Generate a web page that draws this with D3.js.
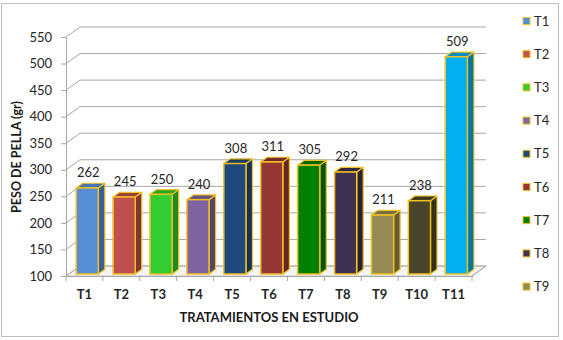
<!DOCTYPE html>
<html>
<head>
<meta charset="utf-8">
<script src="https://cdn.jsdelivr.net/npm/d3@7"></script>
<style>
  body { margin: 0; background: #ffffff; }
  text { font-family: Lato, "Open Sans", sans-serif; }
</style>
</head>
<body>
<div id="chart"></div>
<script>
// data
const categories = ["T1", "T2", "T3", "T4", "T5", "T6", "T7", "T8", "T9", "T10", "T11"];
const values = [262, 245, 250, 240, 308, 311, 305, 292, 211, 238, 509];
const barColors = ["#558ed5", "#c0504d", "#33cc33", "#8064a2", "#1f497d", "#953735",
                   "#008000", "#403151", "#948a54", "#4a452a", "#00b0f0"];
const yTicks = [100, 150, 200, 250, 300, 350, 400, 450, 500, 550];
const legendItems = ["T1", "T2", "T3", "T4", "T5", "T6", "T7", "T8", "T9"];

// layout
const width = 563, height = 340;
const plot = { left: 66, right: 472, top: 37, bottom: 276 };
const depth = { dx: 14, dy: 10 };        // full floor depth
const barDepth = { dx: 6.5, dy: 4.7 };   // box depth of a column
const barShift = { dx: 2.8, dy: 2 };     // columns stand a bit behind the front edge
const outline = "#f0c020";
const gridColor = "#a6a6a6";

const svg = d3.select("#chart")
  .append("svg")
  .attr("width", width)
  .attr("height", height);

// outer frame
svg.append("rect")
  .attr("x", 1.5).attr("y", 3.5)
  .attr("width", 557).attr("height", 333)
  .attr("fill", "#ffffff")
  .attr("stroke", "#bdbdbd");

const x = d3.scaleBand()
  .domain(categories)
  .range([plot.left, plot.right])
  .padding(0);

const y = d3.scaleLinear()
  .domain([100, 550])
  .range([plot.bottom, plot.top]);

// floor
svg.append("path")
  .attr("d", `M${plot.left},${plot.bottom} L${plot.right},${plot.bottom} L${plot.right + depth.dx},${plot.bottom - depth.dy} L${plot.left + depth.dx},${plot.bottom - depth.dy} Z`)
  .attr("fill", "#f4f4f4")
  .attr("stroke", "#c8c8c8");

// left wall diagonals + back wall gridlines
const grid = svg.append("g").attr("class", "grid");
grid.selectAll("path")
  .data(yTicks)
  .enter()
  .append("path")
  .attr("d", d => `M${plot.left},${y(d)} L${plot.left + depth.dx},${y(d) - depth.dy} L${plot.right + depth.dx},${y(d) - depth.dy}`)
  .attr("fill", "none")
  .attr("stroke", gridColor)
  .attr("stroke-width", 1);

// floor right diagonal
svg.append("line")
  .attr("x1", plot.right).attr("y1", plot.bottom)
  .attr("x2", plot.right + depth.dx).attr("y2", plot.bottom - depth.dy)
  .attr("stroke", gridColor);

// y axis
const yAxis = svg.append("g")
  .attr("transform", `translate(${plot.left},0)`)
  .call(d3.axisLeft(y).tickValues(yTicks).tickSize(5).tickSizeOuter(0).tickPadding(9));
yAxis.select(".domain").attr("stroke", gridColor);
yAxis.selectAll(".tick line").attr("stroke", gridColor);
yAxis.selectAll("text")
  .attr("font-size", 13)
  .attr("fill", "#262626")
  .style("font-family", "Lato, sans-serif");

// x axis (labels at band centres, ticks at band edges)
const xAxis = svg.append("g")
  .attr("transform", `translate(0,${plot.bottom})`)
  .call(d3.axisBottom(x).tickSize(0).tickPadding(14));
xAxis.select(".domain").attr("stroke", gridColor);
xAxis.selectAll("text")
  .attr("font-size", 13)
  .attr("font-weight", "bold")
  .attr("fill", "#262626")
  .style("font-family", "Lato, sans-serif");

const edges = categories.map(c => x(c)).concat([plot.right]);
svg.append("g").selectAll("line")
  .data(edges)
  .enter()
  .append("line")
  .attr("x1", d => d).attr("x2", d => d)
  .attr("y1", plot.bottom).attr("y2", plot.bottom + 5)
  .attr("stroke", gridColor);

// columns
const barW = x.bandwidth() * 0.6;
const bars = svg.append("g").attr("class", "bars")
  .selectAll("g")
  .data(categories.map((c, i) => ({ cat: c, value: values[i], color: barColors[i] })))
  .enter()
  .append("g");

const bx = d => x(d.cat) + (x.bandwidth() - barW) / 2 + barShift.dx;
const by = d => y(d.value) - barShift.dy;
const bBottom = plot.bottom - barShift.dy;

bars.append("path") // side
  .attr("d", d => {
    const x0 = bx(d) + barW, t = by(d);
    return `M${x0},${t} L${x0 + barDepth.dx},${t - barDepth.dy} L${x0 + barDepth.dx},${bBottom - barDepth.dy} L${x0},${bBottom} Z`;
  })
  .attr("fill", d => d3.color(d.color).darker(1.1))
  .attr("stroke", outline)
  .attr("stroke-width", 1.2)
  .attr("stroke-linejoin", "round");

bars.append("path") // top
  .attr("d", d => {
    const x0 = bx(d), t = by(d);
    return `M${x0},${t} L${x0 + barDepth.dx},${t - barDepth.dy} L${x0 + barW + barDepth.dx},${t - barDepth.dy} L${x0 + barW},${t} Z`;
  })
  .attr("fill", d => d3.color(d.color).darker(0.6))
  .attr("stroke", outline)
  .attr("stroke-width", 1.2)
  .attr("stroke-linejoin", "round");

bars.append("rect") // front
  .attr("x", bx)
  .attr("y", by)
  .attr("width", barW)
  .attr("height", d => bBottom - by(d))
  .attr("fill", d => d.color)
  .attr("stroke", outline)
  .attr("stroke-width", 1.5);

bars.append("text") // value labels
  .attr("x", d => bx(d) + barW / 2 + 1)
  .attr("y", d => by(d) - barDepth.dy - 6)
  .attr("text-anchor", "middle")
  .attr("font-size", 13)
  .attr("fill", "#262626")
  .text(d => d.value);

// axis titles
svg.append("text")
  .attr("x", (plot.left + plot.right) / 2)
  .attr("y", 322)
  .attr("text-anchor", "middle")
  .attr("font-size", 13)
  .attr("font-weight", "bold")
  .attr("fill", "#1a1a1a")
  .text("TRATAMIENTOS EN ESTUDIO");

svg.append("text")
  .attr("transform", "translate(21,157) rotate(-90)")
  .attr("text-anchor", "middle")
  .attr("font-size", 12.5)
  .attr("font-weight", "bold")
  .attr("fill", "#1a1a1a")
  .text("PESO DE PELLA (gr)");

// legend
const legend = svg.append("g").attr("class", "legend")
  .selectAll("g")
  .data(legendItems)
  .enter()
  .append("g")
  .attr("transform", (d, i) => `translate(523,${21 + i * 33.2})`);

legend.append("rect")
  .attr("x", 0).attr("y", -3.5)
  .attr("width", 7).attr("height", 7)
  .attr("fill", (d, i) => barColors[i])
  .attr("stroke", outline)
  .attr("stroke-width", 1);

legend.append("text")
  .attr("x", 11)
  .attr("y", 0)
  .attr("dy", "0.35em")
  .attr("font-size", 13)
  .attr("fill", "#262626")
  .text(d => d);
</script>
</body>
</html>
